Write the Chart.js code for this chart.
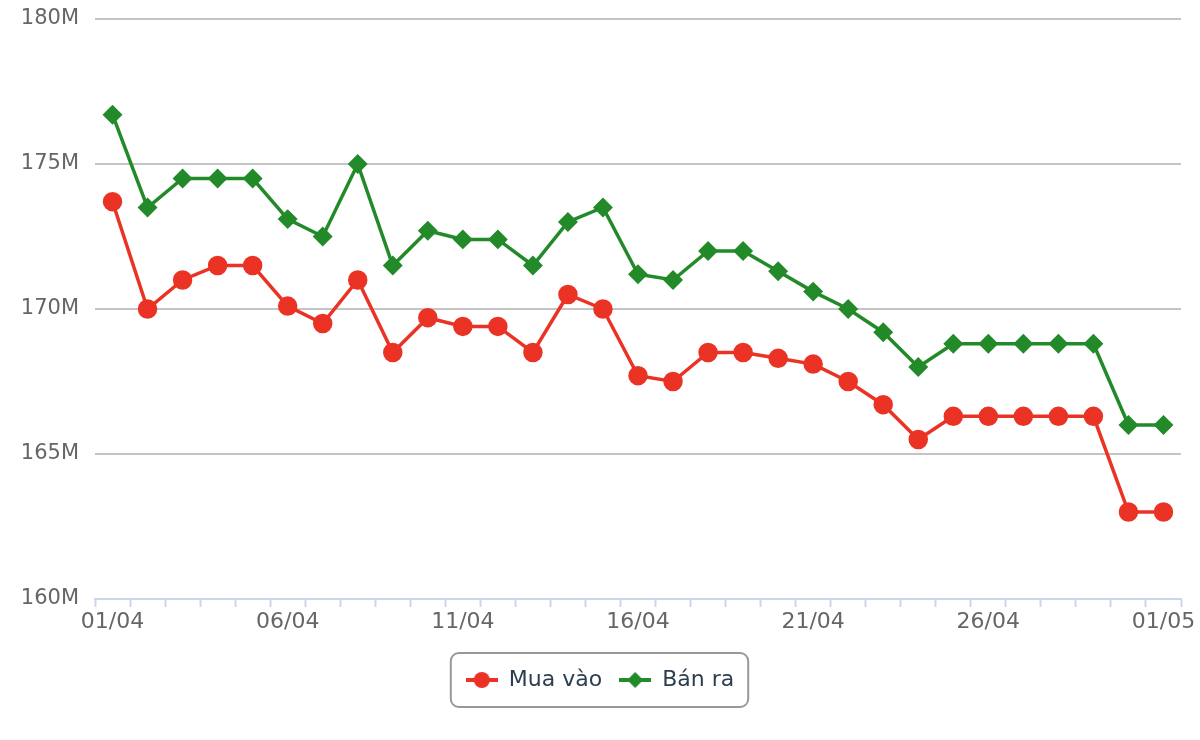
<!DOCTYPE html>
<html>
<head>
<meta charset="utf-8">
<script src="https://cdn.jsdelivr.net/npm/chart.js@4.4.1/dist/chart.umd.min.js"></script>
<style>
    html, body { margin: 0; padding: 0; background: #fff; }
    #wrap { width: 1200px; height: 740px; }
</style>
</head>
<body>
<div id="wrap"><canvas id="bieu-do"></canvas></div>
<script>
// Du lieu (trieu dong)
const ngay = [
    '01/04', '02/04', '03/04', '04/04', '05/04', '06/04', '07/04', '08/04', '09/04', '10/04',
    '11/04', '12/04', '13/04', '14/04', '15/04', '16/04', '17/04', '18/04', '19/04', '20/04',
    '21/04', '22/04', '23/04', '24/04', '25/04', '26/04', '27/04', '28/04', '29/04', '30/04', '01/05'
];
const muaVao = [
    173.7, 170.0, 171.0, 171.5, 171.5, 170.1, 169.5, 171.0, 168.5, 169.7,
    169.4, 169.4, 168.5, 170.5, 170.0, 167.7, 167.5, 168.5, 168.5, 168.3,
    168.1, 167.5, 166.7, 165.5, 166.3, 166.3, 166.3, 166.3, 166.3, 163.0, 163.0
];
const banRa = [
    176.7, 173.5, 174.5, 174.5, 174.5, 173.1, 172.5, 175.0, 171.5, 172.7,
    172.4, 172.4, 171.5, 173.0, 173.5, 171.2, 171.0, 172.0, 172.0, 171.3,
    170.6, 170.0, 169.2, 168.0, 168.8, 168.8, 168.8, 168.8, 168.8, 166.0, 166.0
];
const yMin = 160;
const yMax = 180;
const yBuoc = 5;

const mauDo = '#ea3324';
const mauXanh = '#238a2a';

// hinh nho cho chu thich: duong ke + diem
function taoMauChuThich(mau, kieu) {
    const c = document.createElement('canvas');
    c.width = 32;
    c.height = 18;
    const ctx = c.getContext('2d');
    ctx.strokeStyle = mau;
    ctx.fillStyle = mau;
    ctx.lineWidth = 4;
    ctx.beginPath();
    ctx.moveTo(0, 9);
    ctx.lineTo(32, 9);
    ctx.stroke();
    ctx.beginPath();
    if (kieu === 'circle') {
        ctx.arc(16, 9, 8, 0, Math.PI * 2);
    } else {
        ctx.moveTo(16, 1);
        ctx.lineTo(24, 9);
        ctx.lineTo(16, 17);
        ctx.lineTo(8, 9);
        ctx.closePath();
    }
    ctx.fill();
    return c;
}

const khungChuThich = {
    id: 'khungChuThich',
    afterDraw(chart) {
        const hb = chart.legend && chart.legend.legendHitBoxes;
        if (!hb || !hb.length) return;
        const trai = Math.min(...hb.map(h => h.left)) - 15;
        const phai = Math.max(...hb.map(h => h.left + h.width)) + 14;
        const giua = hb[0].top + hb[0].height / 2;
        const ctx = chart.ctx;
        ctx.save();
        ctx.strokeStyle = '#999999';
        ctx.lineWidth = 2;
        ctx.beginPath();
        ctx.roundRect(trai, giua - 27, phai - trai, 54, 8);
        ctx.stroke();
        ctx.restore();
    }
};

const ctx = document.getElementById('bieu-do').getContext('2d');
new Chart(ctx, {
    type: 'line',
    data: {
        labels: ngay,
        datasets: [
            {
                label: 'Mua vào',
                data: muaVao,
                borderColor: mauDo,
                backgroundColor: mauDo,
                borderWidth: 3.5,
                pointStyle: 'circle',
                pointRadius: 8,
                pointHoverRadius: 8,
                tension: 0
            },
            {
                label: 'Bán ra',
                data: banRa,
                borderColor: mauXanh,
                backgroundColor: mauXanh,
                borderWidth: 3.5,
                pointStyle: 'rectRot',
                pointRadius: 7.5,
                pointHoverRadius: 7.5,
                tension: 0
            }
        ]
    },
    options: {
        responsive: true,
        maintainAspectRatio: false,
        animation: false,
        layout: { padding: { top: 19, right: 19, bottom: 39, left: 19 } },
        scales: {
            x: {
                type: 'category',
                offset: true,
                grid: {
                    offset: true,
                    drawOnChartArea: false,
                    drawTicks: true,
                    tickLength: 8,
                    tickWidth: 2,
                    color: '#ccd6eb'
                },
                border: { color: '#ccd6eb', width: 2 },
                ticks: {
                    autoSkip: false,
                    maxRotation: 0,
                    padding: 2,
                    color: '#666666',
                    font: { family: 'DejaVu Sans', size: 22 },
                    callback: function(value, index) {
                        return index % 5 === 0 ? this.getLabelForValue(value) : '';
                    }
                },
                afterFit: (scale) => { scale.height = 53; }
            },
            y: {
                min: yMin,
                max: yMax,
                grid: {
                    color: '#c4c4c4',
                    lineWidth: 2,
                    drawTicks: true,
                    tickLength: 16,
                    tickColor: 'rgba(0,0,0,0)'
                },
                border: { display: false },
                ticks: {
                    stepSize: yBuoc,
                    padding: 0,
                    color: '#666666',
                    font: { family: 'DejaVu Sans', size: 21 },
                    callback: (v) => v + 'M'
                },
                afterFit: (scale) => { scale.width = 76; }
            }
        },
        plugins: {
            tooltip: { enabled: false },
            legend: {
                position: 'bottom',
                labels: {
                    usePointStyle: true,
                    pointStyleWidth: 32,
                    padding: 17,
                    color: '#2c3e50',
                    font: { family: 'DejaVu Sans', size: 22 },
                    generateLabels: (chart) => {
                        const ds = Chart.defaults.plugins.legend.labels.generateLabels(chart);
                        ds[0].pointStyle = taoMauChuThich(mauDo, 'circle');
                        ds[1].pointStyle = taoMauChuThich(mauXanh, 'rectRot');
                        return ds;
                    }
                }
            }
        }
    },
    plugins: [khungChuThich]
});
</script>
</body>
</html>
